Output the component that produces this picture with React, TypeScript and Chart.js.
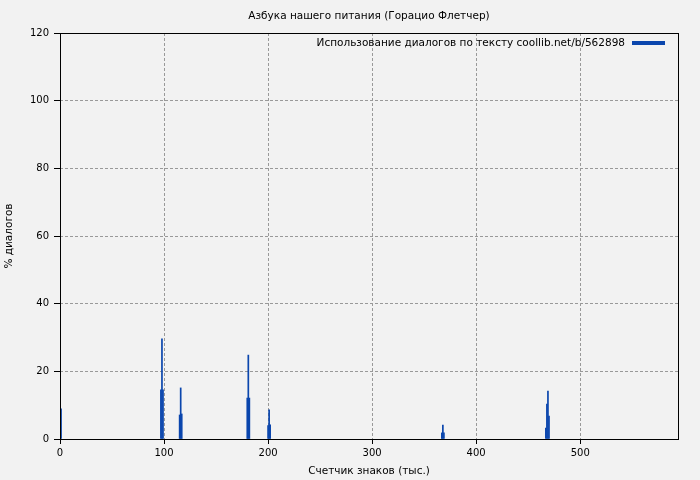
import React, { useEffect, useRef } from "react";
import { Chart, registerables } from "chart.js";

Chart.register(...registerables);

const chartTitle = "Азбука нашего питания (Горацио Флетчер)";
const seriesLabel = "Использование диалогов по тексту coollib.net/b/562898";
const xAxisTitle = "Счетчик знаков (тыс.)";
const yAxisTitle = "% диалогов";

const barX = [1, 97, 98, 99, 115, 116, 117, 180, 181, 182, 200, 201, 202, 367, 368, 369, 467, 468, 469, 470];
const barY = [8.9, 14.5, 29.6, 14.5, 7.1, 15.1, 7.4, 12.1, 24.8, 12.1, 4.0, 8.6, 4.2, 1.8, 4.1, 1.8, 3.2, 10.3, 14.2, 6.8];

const xTicks = [0, 100, 200, 300, 400, 500];
const yTicks = [0, 20, 40, 60, 80, 100, 120];
const xMin = 0;
const xMax = 594;
const yMin = 0;
const yMax = 120;

const BAR_COLOR = "#0b46ad";
const GRID_COLOR = "#999999";
const FONT = "DejaVu Sans";
const LABEL_SIZE = 10.5;

const decorPlugin = {
  id: "decor",
  beforeDraw(chart: any) {
    const ctx = chart.ctx;
    ctx.save();
    ctx.fillStyle = "#f2f2f2";
    ctx.fillRect(0, 0, chart.width, chart.height);
    ctx.restore();
  },
  afterDraw(chart: any) {
    const ctx = chart.ctx;
    const a = chart.chartArea;
    ctx.save();
    ctx.strokeStyle = "#000";
    ctx.lineWidth = 1;
    ctx.setLineDash([]);
    ctx.strokeRect(Math.round(a.left) + 0.5, Math.round(a.top) + 0.5, Math.round(a.right - a.left), Math.round(a.bottom - a.top));
    ctx.fillStyle = "#000";
    ctx.font = `${LABEL_SIZE}px "${FONT}"`;
    ctx.textAlign = "center";
    ctx.textBaseline = "middle";
    ctx.fillText(chartTitle, (a.left + a.right) / 2, 16);
    ctx.textAlign = "right";
    ctx.fillText(seriesLabel, 625, 43);
    ctx.fillStyle = BAR_COLOR;
    ctx.fillRect(632, 41, 33, 4);
    ctx.restore();
  },
};

export default function App() {
  const ref = useRef<HTMLCanvasElement | null>(null);

  useEffect(() => {
    document.body.style.margin = "0";
    if (!ref.current) return;
    const data = barX.map((x, i) => ({ x, y: barY[i] }));
    const chart = new Chart(ref.current, {
      type: "bar",
      data: {
        datasets: [
          {
            label: seriesLabel,
            data,
            backgroundColor: BAR_COLOR,
            borderWidth: 0,
            barPercentage: 1,
            categoryPercentage: 1,
            grouped: false,
          } as any,
        ],
      },
      options: {
        responsive: false,
        animation: false,
        devicePixelRatio: 1,
        layout: { padding: { top: 33, right: 22, left: 0, bottom: 0 } },
        font: { family: FONT, size: 10 },
        plugins: {
          legend: { display: false },
          title: { display: false },
          tooltip: { enabled: false },
        },
        scales: {
          x: {
            type: "linear",
            min: xMin,
            max: xMax,
            offset: false,
            border: { display: false, dash: [3, 2] },
            afterBuildTicks: (scale: any) => {
              scale.ticks = xTicks.map((v) => ({ value: v }));
            },
            afterFit: (scale: any) => {
              scale.height = 41;
            },
            grid: {
              offset: false,
              color: GRID_COLOR,
              lineWidth: 1,
              drawTicks: true,
              tickLength: 5,
              tickColor: "#000",
              tickBorderDash: [],
            } as any,
            ticks: {
              autoSkip: false,
              color: "#000",
              padding: 3,
              maxRotation: 0,
              font: { family: FONT, size: 10 },
            },
            title: {
              display: true,
              text: xAxisTitle,
              color: "#000",
              font: { family: FONT, size: LABEL_SIZE },
              padding: { top: 0, bottom: 2 },
            },
          },
          y: {
            type: "linear",
            min: yMin,
            max: yMax,
            border: { display: false, dash: [3, 2] },
            afterBuildTicks: (scale: any) => {
              scale.ticks = yTicks.map((v) => ({ value: v }));
            },
            afterFit: (scale: any) => {
              scale.width = 60;
            },
            grid: {
              color: GRID_COLOR,
              lineWidth: 1,
              drawTicks: true,
              tickLength: 6,
              tickColor: "#000",
              tickBorderDash: [],
            } as any,
            ticks: {
              color: "#000",
              padding: 5,
              font: { family: FONT, size: 10 },
            },
            title: {
              display: true,
              text: yAxisTitle,
              color: "#000",
              font: { family: FONT, size: LABEL_SIZE },
              padding: { top: 3, bottom: 0 },
            },
          },
        },
      } as any,
      plugins: [decorPlugin],
    });
    return () => chart.destroy();
  }, []);

  return (
    <div style={{ width: 700, height: 480 }}>
      <canvas ref={ref} width={700} height={480} style={{ display: "block" }} />
    </div>
  );
}
